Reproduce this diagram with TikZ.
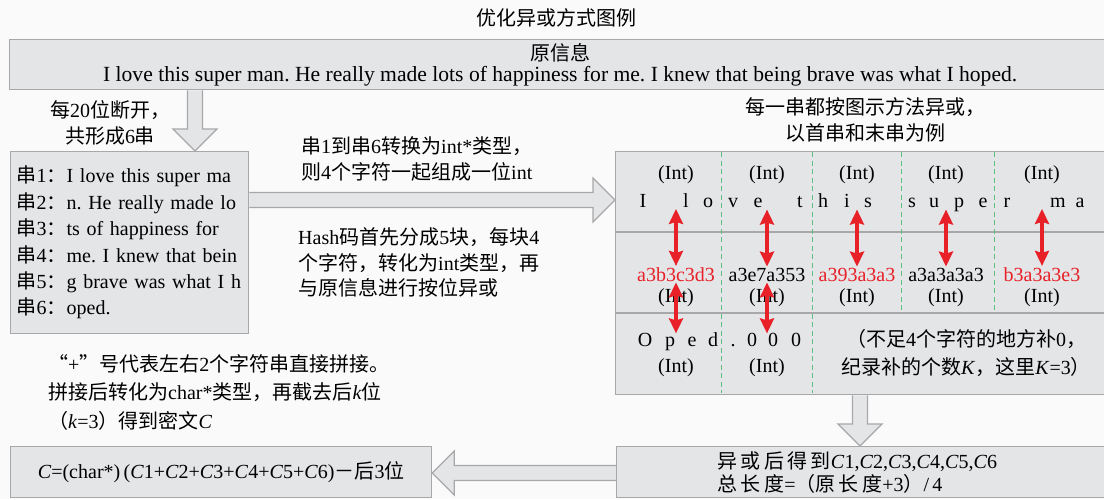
\documentclass[tikz,border=0pt]{standalone}
\usepackage{fontspec}
\setmainfont{Liberation Serif}
\newfontfamily\cjk{Noto Sans CJK SC}
\usetikzlibrary{arrows.meta,calc}
\frenchspacing

\definecolor{paper}{RGB}{250,250,250}
\definecolor{boxgray}{RGB}{228,229,231}
\definecolor{edgegray}{RGB}{168,168,170}
\definecolor{xorred}{RGB}{232,32,40}
\definecolor{sepgreen}{RGB}{96,190,128}

\pgfdeclarelayer{back}
\pgfdeclarelayer{arrows}
\pgfsetlayers{back,arrows,main}

\newcommand{\zh}[1]{{\cjk #1}}
\newcommand{\fatarrow}[2]{%
  \begin{pgfonlayer}{arrows}
  \coordinate (fb) at ($(#2)!22pt!(#1)$);
  \draw[fat] ($(#1)!7.5pt!90:(#2)$) -- ($(fb)!7.5pt!90:(#2)$) -- ($(fb)!22pt!90:(#2)$) -- (#2)
    -- ($(fb)!22pt!-90:(#2)$) -- ($(fb)!7.5pt!-90:(#2)$) -- ($(#1)!7.5pt!-90:(#2)$);
  \end{pgfonlayer}}

\begin{document}
\begin{tikzpicture}[x=1pt, y=-1pt,
  every node/.style={font=\fontsize{20}{26}\selectfont, inner sep=1pt},
  box/.style={draw=edgegray, fill=boxgray, line width=1.3pt, anchor=north west, inner sep=0pt},
  fat/.style={draw=edgegray, fill=boxgray, line width=1.3pt, line join=miter},
  xorarrow/.style={{Stealth[length=15pt,width=14pt,inset=2pt]}-{Stealth[length=15pt,width=14pt,inset=2pt]}, xorred, line width=3.5pt},
  gridsep/.style={sepgreen, line width=1pt, dash pattern=on 5pt off 3.5pt},
  lbl/.style={anchor=base}]
  \useasboundingbox (0,0) rectangle (1104,499);
  \begin{pgfonlayer}{back}
    \fill[paper] (0,0) rectangle (1104,499);
  \end{pgfonlayer}

  \node (title) at (556,18) {\zh{优化异或方式图例}};

  \node[box, minimum width=1101pt, minimum height=50pt, align=center, font=\fontsize{20}{21}\selectfont] (orig) at (9,39)
    {\zh{原信息}\\{\fontsize{21.6}{21}\selectfont I love this super man. He really made lots of happiness for me. I knew that being brave was what I hoped.}};

  % split into six strings
  \node[box, minimum width=238pt, minimum height=182pt, text width=226pt, align=left, font=\fontsize{20}{26.4}\selectfont] (split) at (10,151)
    {\zh{串}1\zh{：}I love this super ma\\\zh{串}2\zh{：}n. He really made lo\\\zh{串}3\zh{：}ts of happiness for\\\zh{串}4\zh{：}me. I knew that bein\\\zh{串}5\zh{：}g brave was what I h\\\zh{串}6\zh{：}oped.};
  \node[align=center] (cut) at (110,123) {\zh{每}20\zh{位断开，}\\\zh{共形成}6\zh{串}};

  \node[anchor=west, align=left] (toint) at (300,159) {\zh{串}1\zh{到串}6\zh{转换为}int*\zh{类型，}\\\zh{则}4\zh{个字符一起组成一位}int};
  \node[anchor=west, align=left, font=\fontsize{20}{25.5}\selectfont] (hash) at (297,262.5)
    {Hash\zh{码首先分成}5\zh{块，每块}4\\\zh{个字符，转化为}int\zh{类型，再}\\\zh{与原信息进行按位异或}};
  \node[align=center] (each) at (865,120) {\zh{每一串都按图示方法异或，}\\\zh{以首串和末串为例}};

  % xor table
  \node[box, minimum width=495pt, minimum height=243pt] (xor) at (615,151) {};
  \foreach \y in {232,313}
    \draw[edgegray, line width=1.3pt] (xor.west |- 0,\y) -- (xor.east |- 0,\y);
  \foreach \x in {721,812}
    \draw[gridsep] (\x,152) -- (\x,393);
  \foreach \x in {901,994}
    \draw[gridsep] (\x,152) -- (\x,313);

  \foreach \x [count=\i] in {676,767,857,946,1042} {
    \node[lbl] (top\i) at (\x,179) {(Int)};
    \node[lbl] (mid\i) at (\x,302) {(Int)};
  }
  \foreach \x/\ch [count=\i] in {643/I,686/l,708/o,733/v,758/e,800/t,823/h,847/i,868/s,912/s,934/u,959/p,983/e,1007/r,1058/m,1080/a}
    \node[lbl] (first\i) at (\x,207) {\ch};
  \foreach \x/\h/\c [count=\i] in {676/a3b3c3d3/xorred,767/a3e7a353/black,857/a393a3a3/xorred,946/a3a3a3a3/black,1042/b3a3a3e3/xorred}
    \node[lbl, text=\c] (hex\i) at (\x,281) {\h};
  \foreach \x/\ch [count=\i] in {645/O,670/p,692/e,713/d,733/.,752/0,773/0,796/0}
    \node[lbl] (last\i) at (\x,346) {\ch};
  \foreach \x [count=\i] in {676,767}
    \node[lbl] (low\i) at (\x,372) {(Int)};
  \node[align=center, font=\fontsize{20}{28}\selectfont] (pad) at (966,353)
    {\zh{（不足}4\zh{个字符的地方补}0\zh{，}\\\zh{纪录补的个数}\textit{K}\zh{，这里}\textit{K}=3\zh{）}};

  \foreach \i in {1,...,5}
    \draw[xorarrow] (hex\i.north) -- ++(0,-57);
  \foreach \i in {1,2}
    \draw[xorarrow] (hex\i.south) -- ++(0,51);

  % results
  \node[box, minimum width=494pt, minimum height=51pt, text width=292pt, align=left, font=\fontsize{20}{23}\selectfont] (res) at (616,446)
    {\zh{异\,或\,后\,得\,到}\textit{C}1,\textit{C}2,\textit{C}3,\textit{C}4,\textit{C}5,\textit{C}6\\\zh{总\,长\,度}=\zh{（原\,长\,度}+3\zh{）}/\,4};
  \node[box, minimum width=421pt, minimum height=51pt] (final) at (10,446)
    {\textit{C}=(char*)\,(\textit{C}1+\textit{C}2+\textit{C}3+\textit{C}4+\textit{C}5+\textit{C}6)\zh{－后}3\zh{位}};
  \node[anchor=west, align=left, font=\fontsize{20}{28.5}\selectfont] (concat) at (47,392)
    {\zh{“}+\zh{”号代表左右}2\zh{个字符串直接拼接。}\\\zh{拼接后转化为}char*\zh{类型，再截去后}\textit{k}\zh{位}\\\zh{（}\textit{k}=3\zh{）得到密文}\textit{C}};

  \fatarrow{195,0 |- orig.south}{195,0 |- split.north}
  \fatarrow{split.east |- 0,200}{xor.west |- 0,200}
  \fatarrow{860,0 |- xor.south}{860,0 |- res.north}
  \fatarrow{res.west |- 0,473}{final.east |- 0,473}
\end{tikzpicture}
\end{document}
